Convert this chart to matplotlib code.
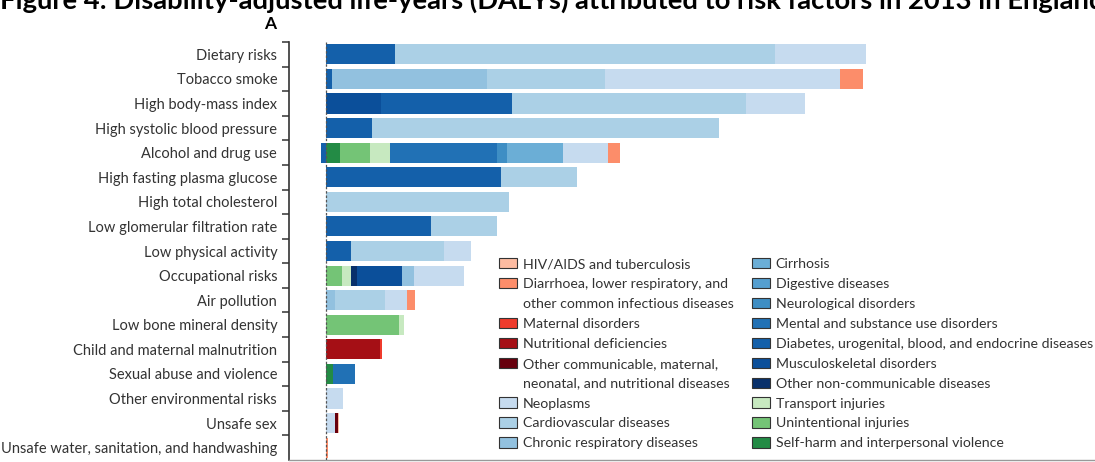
import numpy as np
import matplotlib
matplotlib.use("Agg")
import matplotlib.pyplot as plt
from matplotlib.patches import Patch

plt.rcParams['font.family'] = ['Lato', 'DejaVu Sans']

# risk factors, top to bottom
risks = ["Dietary risks", "Tobacco smoke", "High body-mass index",
         "High systolic blood pressure", "Alcohol and drug use",
         "High fasting plasma glucose", "High total cholesterol",
         "Low glomerular filtration rate", "Low physical activity",
         "Occupational risks", "Air pollution", "Low bone mineral density",
         "Child and maternal malnutrition", "Sexual abuse and violence",
         "Other environmental risks", "Unsafe sex",
         "Unsafe water, sanitation, and handwashing"]

# DALYs (thousands) by cause, one value per risk factor (estimated from the figure)
hiv_tb =          [0, 0, 0, 0, 0, 0, 0, 0, 0, 0, 0, 0, 0, 0, 0, 4, 0]
diarrhoea_lri =   [0, 58, 0, 0, 29, 0, 0, 0, 0, 0, 21, 0, 0, 0, 0, 0, 6]
maternal =        [0, 0, 0, 0, 0, 0, 0, 0, 0, 0, 0, 0, 4, 0, 0, 0, 0]
nutritional =     [0, 0, 0, 0, 0, 0, 0, 0, 0, 0, 0, 0, 136, 0, 0, 0, 0]
other_comm =      [0, 0, 0, 0, 0, 0, 0, 0, 0, 0, 0, 0, 0, 0, 0, 8, 0]
neoplasms =       [228, 588, 148, 0, 114, 0, 0, 0, 67, 126, 53, 0, 0, 0, 42, 22, 0]
cardiovascular =  [951, 293, 585, 866, 0, 191, 458, 166, 233, 0, 127, 0, 0, 0, 0, 0, 0]
chronic_resp =    [0, 389, 0, 0, 0, 0, 0, 0, 0, 29, 22, 0, 0, 0, 0, 0, 0]
cirrhosis =       [0, 0, 0, 0, 140, 0, 0, 0, 0, 0, 0, 0, 0, 0, 0, 0, 0]
digestive =       [0, 0, 0, 0, 0, 0, 0, 0, 0, 0, 0, 0, 0, 0, 0, 0, 0]
neurological =    [0, 0, 0, 0, 23, 0, 0, 0, 0, 0, 0, 0, 0, 0, 0, 0, 0]
mental =          [0, 0, 0, 0, 269, 0, 0, 0, 0, 0, 0, 0, 0, 57, 0, 0, 0]
diabetes =        [172, 15, 328, 116, -11, 438, 0, 263, 63, 0, 0, 0, 0, 0, 0, 0, 0]
musculoskeletal = [0, 0, 138, 0, 0, 0, 0, 0, 0, 114, 0, 0, 0, 0, 0, 0, 0]
other_ncd =       [0, 0, 0, 0, 0, 0, 0, 0, 0, 14, 0, 0, 0, 0, 0, 0, 0]
transport =       [0, 0, 0, 0, 49, 0, 0, 0, 0, 22, 0, 14, 0, 0, 0, 0, 0]
unintentional =   [0, 0, 0, 0, 75, 0, 0, 0, 0, 41, 0, 182, 0, 0, 0, 0, 0]
self_harm =       [0, 0, 0, 0, 36, 0, 0, 0, 0, 0, 0, 0, 0, 17, 0, 0, 0]

cause_labels = ["HIV/AIDS and tuberculosis",
                "Diarrhoea, lower respiratory, and\nother common infectious diseases",
                "Maternal disorders", "Nutritional deficiencies",
                "Other communicable, maternal,\nneonatal, and nutritional diseases",
                "Neoplasms", "Cardiovascular diseases", "Chronic respiratory diseases",
                "Cirrhosis", "Digestive diseases", "Neurological disorders",
                "Mental and substance use disorders",
                "Diabetes, urogenital, blood, and endocrine diseases",
                "Musculoskeletal disorders", "Other non-communicable diseases",
                "Transport injuries", "Unintentional injuries",
                "Self-harm and interpersonal violence"]
cause_values = [hiv_tb, diarrhoea_lri, maternal, nutritional, other_comm,
                neoplasms, cardiovascular, chronic_resp, cirrhosis, digestive,
                neurological, mental, diabetes, musculoskeletal, other_ncd,
                transport, unintentional, self_harm]
cause_colors = ["#fcbba1", "#fc8d6a", "#ef3b2c", "#a50f15", "#67000d",
                "#c6dbef", "#abd0e6", "#92c1df", "#6baed6", "#559fd0",
                "#3e8ec4", "#2171b5", "#1460aa", "#0b4f9a", "#08306b",
                "#c7e9c0", "#74c476", "#238b45"]

fig = plt.figure(figsize=(10.95, 4.62), dpi=100)
ax = fig.add_axes([289 / 1095, 2 / 462, 806 / 1095, 418 / 462])

y = np.arange(len(risks))
pos_left = np.zeros(len(risks))
neg_left = np.zeros(len(risks))
# stack in reverse legend order (injuries first, communicable last)
for vals, col in zip(cause_values[::-1], cause_colors[::-1]):
    v = np.array(vals, dtype=float)
    pv = np.where(v > 0, v, 0)
    nv = np.where(v < 0, v, 0)
    ax.barh(y, pv, left=pos_left, height=0.82, color=col, linewidth=0)
    ax.barh(y, nv, left=neg_left, height=0.82, color=col, linewidth=0)
    pos_left += pv
    neg_left += nv

ax.axvline(0, color="#555555", linestyle=(0, (2, 1.5)), linewidth=0.9, zorder=3)

ax.set_ylim(len(risks) - 0.5, -0.5)
ax.set_xlim(-92, 1923)

# ticks sit on the boundaries between rows, labels in between
ax.set_yticks(np.arange(-0.5, len(risks) - 1, 1.0))
ax.set_yticklabels([])
ax.set_yticks(y, minor=True)
ax.set_yticklabels(risks, minor=True, fontsize=10.5, color="#333333")
ax.tick_params(axis="y", which="major", length=5, width=1.1, color="#333333")
ax.tick_params(axis="y", which="minor", length=0, pad=8.5)
ax.set_xticks([])

for s in ["top", "right"]:
    ax.spines[s].set_visible(False)
ax.spines["left"].set_color("#333333")
ax.spines["left"].set_linewidth(1.2)
ax.spines["bottom"].set_color("#999999")
ax.spines["bottom"].set_linewidth(1.0)

# legend: continuation lines get an empty handle so both columns hold 10 rows
handles, labels = [], []
for lab, col in zip(cause_labels, cause_colors):
    parts = lab.split("\n")
    handles.append(Patch(facecolor=col, edgecolor="#333333", linewidth=0.8))
    labels.append(parts[0])
    for extra in parts[1:]:
        handles.append(Patch(facecolor="none", edgecolor="none"))
        labels.append(extra)

fig.legend(handles, labels, ncol=2, loc="upper left",
           bbox_to_anchor=(499 / 1095, 1 - 258 / 462), frameon=False,
           fontsize=10.2, labelcolor="#333333", borderpad=0, borderaxespad=0,
           handlelength=1.3, handleheight=0.75, handletextpad=0.4,
           labelspacing=0.55, columnspacing=1.25)

fig.text(0.0, 1 - 9 / 462,
         "Figure 4: Disability-adjusted life-years (DALYs) attributed to risk factors in 2013 in England",
         fontsize=19.7, fontweight="bold", ha="left", va="baseline", color="black")
fig.text(270 / 1095, 1 - 29 / 462, "A", fontsize=12.5, fontweight="bold",
         ha="center", va="baseline", color="black")

fig.savefig("out.png", dpi=100)
